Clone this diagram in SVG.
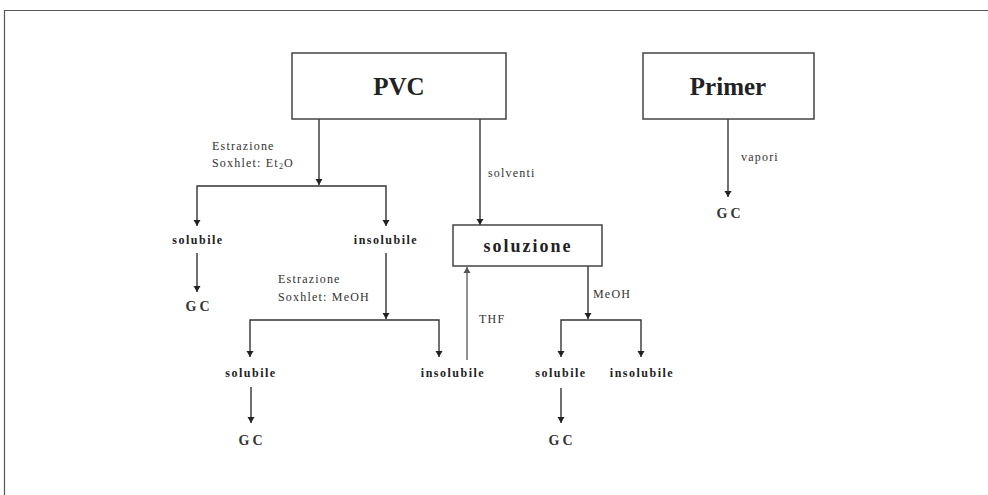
<svg xmlns="http://www.w3.org/2000/svg" width="988" height="495" viewBox="0 0 988 495">
<defs>
<marker id="ah" markerWidth="8" markerHeight="8" refX="7" refY="4" orient="auto-start-reverse" markerUnits="userSpaceOnUse" viewBox="0 0 8 8">
<path d="M1,0.5 L7,4 L1,7.5 Z" fill="#222"/>
</marker>
<marker id="ahg" markerWidth="8" markerHeight="8" refX="7" refY="4" orient="auto" markerUnits="userSpaceOnUse" viewBox="0 0 8 8">
<path d="M1,0.5 L7,4 L1,7.5 Z" fill="#555"/>
</marker>
<style>
.box{fill:#fff;stroke:#444;stroke-width:1.5}
.ln{fill:none;stroke:#333;stroke-width:1.4}
.big{font-family:"Liberation Serif",serif;font-weight:bold;font-size:25px;fill:#222;text-anchor:middle}
.mid{font-family:"Liberation Serif",serif;font-weight:bold;font-size:18px;fill:#222;text-anchor:middle;letter-spacing:2px}
.sm{font-family:"Liberation Serif",serif;font-weight:bold;font-size:12px;fill:#222;text-anchor:middle;letter-spacing:1.5px}
.gc{font-family:"Liberation Serif",serif;font-weight:bold;font-size:14px;fill:#333;text-anchor:middle;letter-spacing:3px}
.lab{font-family:"Liberation Serif",serif;font-size:12px;fill:#333;letter-spacing:1.2px}
</style>
</defs>
<rect width="988" height="495" fill="#fff"/>
<path d="M4.5,495 L4.5,10.5 L988,10.5" fill="none" stroke="#555" stroke-width="1.2"/>

<g id="connectors">
<path class="ln" d="M319,119 V185" marker-end="url(#ah)"/>
<path class="ln" d="M197,226 V186 H386 V226" marker-start="url(#ah)" marker-end="url(#ah)"/>
<path class="ln" d="M197,253 V292" marker-end="url(#ah)"/>
<path class="ln" d="M386,253 V319" marker-end="url(#ah)"/>
<path class="ln" d="M250,357 V320 H439 V357" marker-start="url(#ah)" marker-end="url(#ah)"/>
<path class="ln" d="M251,387 V423" marker-end="url(#ah)"/>
<path d="M467,360 V267" fill="none" stroke="#777" stroke-width="1.6" marker-end="url(#ahg)"/>
<path class="ln" d="M480,119 V225" marker-end="url(#ah)"/>
<path class="ln" d="M588,266 V319" marker-end="url(#ah)"/>
<path class="ln" d="M561,357 V320 H641 V357" marker-start="url(#ah)" marker-end="url(#ah)"/>
<path class="ln" d="M561,388 V423" marker-end="url(#ah)"/>
<path class="ln" d="M728,119 V197" marker-end="url(#ah)"/>
<text class="lab" x="212" y="150">Estrazione</text>
<text class="lab" x="212" y="167">Soxhlet: Et<tspan font-size="8" dy="2">2</tspan><tspan dy="-2">O</tspan></text>
<text class="lab" x="278" y="283">Estrazione</text>
<text class="lab" x="278" y="301">Soxhlet: MeOH</text>
<text class="lab" x="488" y="177">solventi</text>
<text class="lab" x="479" y="323">THF</text>
<text class="lab" x="593" y="298">MeOH</text>
<text class="lab" x="741" y="161">vapori</text>
</g>

<g id="pvc"><rect class="box" x="292" y="53" width="214" height="66"/><text class="big" x="399" y="95">PVC</text></g>
<g id="primer"><rect class="box" x="643" y="53" width="171" height="66"/><text class="big" x="728" y="95">Primer</text></g>
<g id="soluzione"><rect class="box" x="453" y="225" width="149" height="41"/><text class="mid" x="528" y="252">soluzione</text></g>
<g id="solubile1"><text class="sm" x="198" y="244">solubile</text></g>
<g id="insolubile1"><text class="sm" x="386" y="244">insolubile</text></g>
<g id="gc1"><text class="gc" x="199" y="311">GC</text></g>
<g id="solubile2"><text class="sm" x="251" y="377">solubile</text></g>
<g id="insolubile2"><text class="sm" x="453" y="377">insolubile</text></g>
<g id="gc2"><text class="gc" x="252" y="445">GC</text></g>
<g id="solubile3"><text class="sm" x="561" y="377">solubile</text></g>
<g id="insolubile3"><text class="sm" x="642" y="377">insolubile</text></g>
<g id="gc3"><text class="gc" x="562" y="445">GC</text></g>
<g id="gc4"><text class="gc" x="730" y="218">GC</text></g>
</svg>
